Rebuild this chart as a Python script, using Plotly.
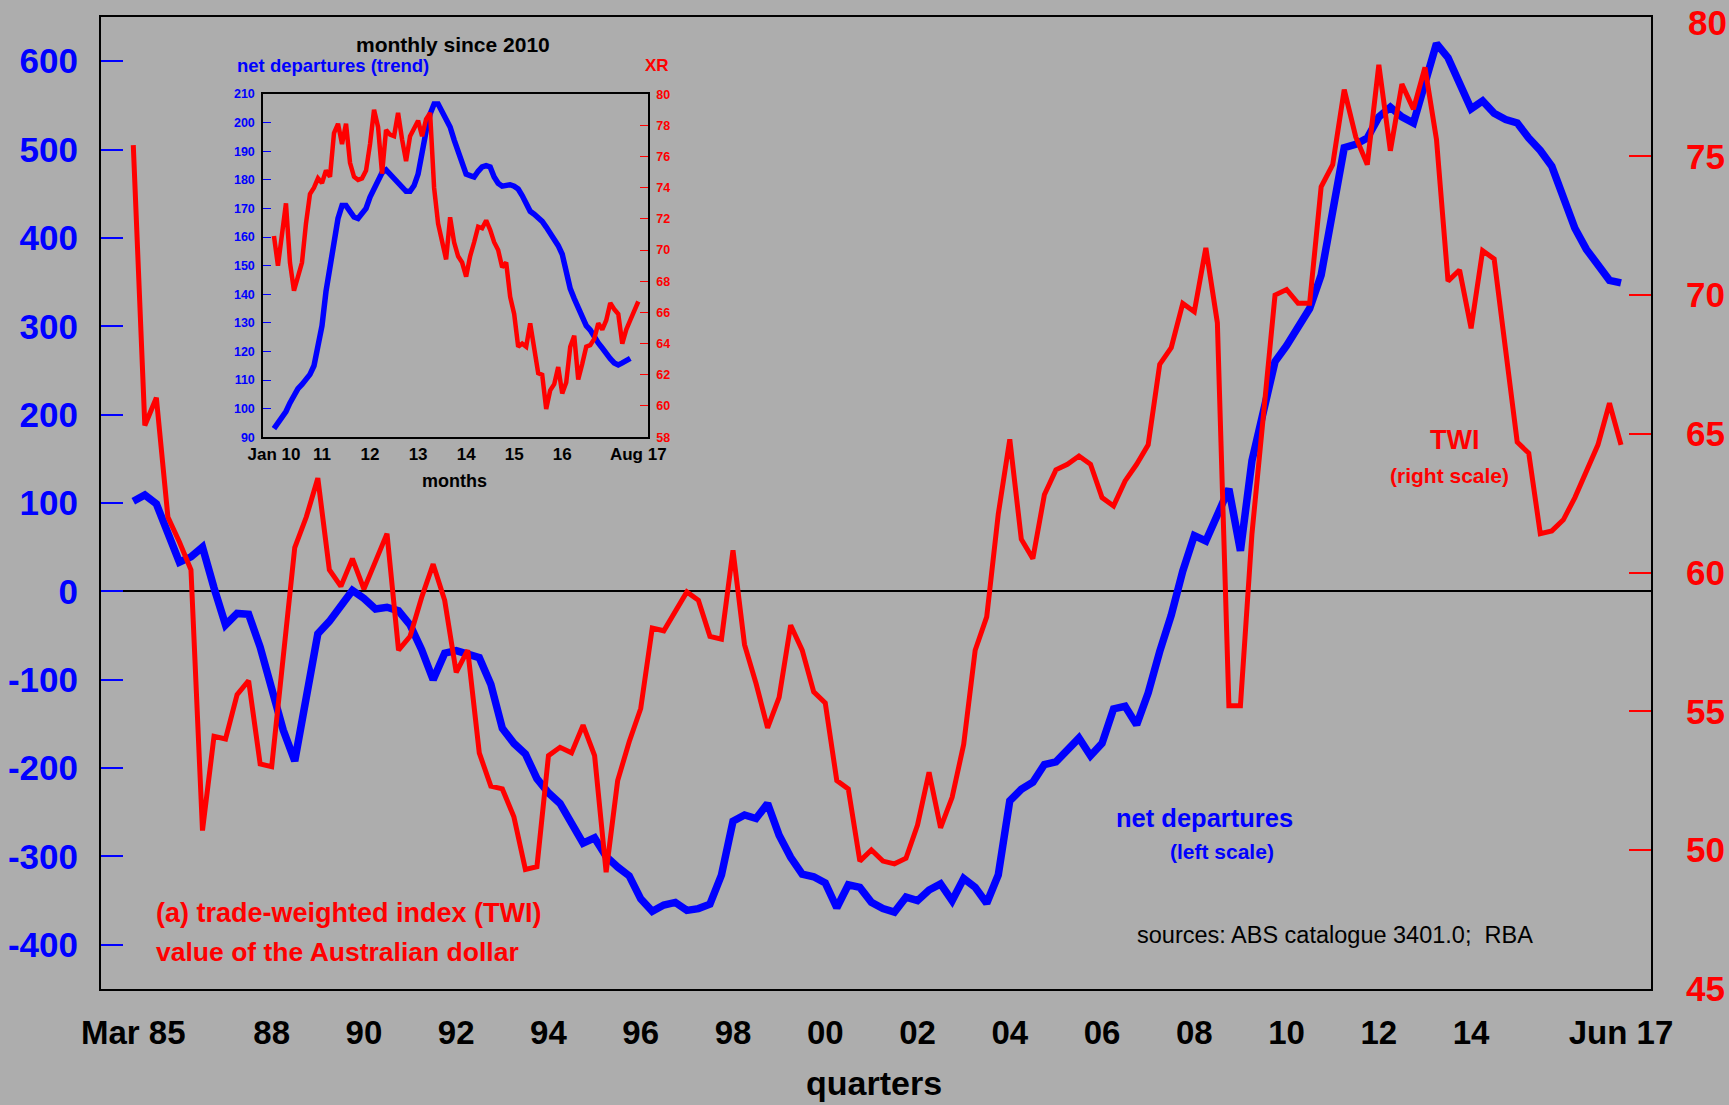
import plotly.graph_objects as go

# ---------------- data ----------------
MONTH_ABBR = ["Jan", "Feb", "Mar", "Apr", "May", "Jun", "Jul", "Aug", "Sep", "Oct", "Nov", "Dec"]
QTR_ABBR = ["Mar", "Jun", "Sep", "Dec"]

# quarterly categories Mar 1985 .. Jun 2017
quarters = [f"{m} {y}" for y in range(1985, 2018) for m in QTR_ABBR][:130]

# net departures (left scale), quarterly
net_departures = [
    102, 109, 99, 67, 33, 39, 50, 4, -38, -25,
    -26, -63, -112, -157, -192, -122, -48, -34, -17, 1,
    -8, -20, -18, -22, -38, -66, -100, -70, -67, -72,
    -75, -105, -155, -172, -184, -212, -228, -240, -262, -285,
    -279, -300, -312, -322, -348, -362, -355, -352, -361, -359,
    -354, -321, -260, -253, -257, -240, -276, -301, -320, -323,
    -330, -358, -332, -335, -352, -359, -363, -346, -350, -338,
    -331, -350, -325, -335, -353, -321, -237, -224, -216, -196,
    -193, -179, -166, -186, -172, -133, -130, -151, -115, -68,
    -27, 23, 63, 57, 88, 116, 46, 148, 204, 260,
    278, 299, 320, 358, 432, 502, 506, 513, 537, 548,
    537, 530, 575, 620, 604, 576, 546, 555, 541, 534,
    530, 513, 499, 481, 446, 411, 387, 369, 352, 349,
]

# trade-weighted index (right scale), quarterly
twi = [
    75.4, 65.3, 66.3, 62.0, 61.1, 60.1, 50.7, 54.1, 54.0, 55.6,
    56.1, 53.1, 53.0, 56.9, 60.9, 62.0, 63.4, 60.1, 59.5, 60.5,
    59.4, 60.4, 61.4, 57.2, 57.7, 59.1, 60.3, 59.0, 56.4, 57.2,
    53.5, 52.3, 52.2, 51.2, 49.3, 49.4, 53.4, 53.7, 53.5, 54.5,
    53.4, 49.2, 52.5, 53.9, 55.1, 58.0, 57.9, 58.6, 59.3, 59.0,
    57.7, 57.6, 60.8, 57.4, 56.0, 54.4, 55.5, 58.1, 57.2, 55.7,
    55.3, 52.5, 52.2, 49.6, 50.0, 49.6, 49.5, 49.7, 50.9, 52.8,
    50.8, 51.9, 53.8, 57.2, 58.4, 62.1, 64.8, 61.2, 60.5, 62.8,
    63.7, 63.9, 64.2, 63.9, 62.7, 62.4, 63.3, 63.9, 64.6, 67.5,
    68.1, 69.7, 69.4, 71.7, 69.0, 55.2, 55.2, 61.4, 65.7, 70.0,
    70.2, 69.7, 69.7, 73.9, 74.7, 77.4, 75.7, 74.7, 78.3, 75.2,
    77.6, 76.7, 78.2, 75.6, 70.5, 70.9, 68.8, 71.6, 71.3, 68.1,
    64.7, 64.3, 61.4, 61.5, 61.9, 62.7, 63.6, 64.6, 66.1, 64.6,
]

main_tick_cats = ["Mar 1985", "Mar 1988", "Mar 1990", "Mar 1992", "Mar 1994", "Mar 1996",
                  "Mar 1998", "Mar 2000", "Mar 2002", "Mar 2004", "Mar 2006", "Mar 2008",
                  "Mar 2010", "Mar 2012", "Mar 2014", "Jun 2017"]
main_tick_text = ["Mar 85", "88", "90", "92", "94", "96", "98", "00", "02", "04",
                  "06", "08", "10", "12", "14", "Jun 17"]
left_ticks = [-400, -300, -200, -100, 0, 100, 200, 300, 400, 500, 600]
left_tick_text = ["-400", "-300", "-200", "-100", "0", "100", "200", "300", "400", "500", "600"]
right_ticks = [45, 50, 55, 60, 65, 70, 75, 80]
# the top label (80) sits at the very edge; it is drawn as a separate text below
right_tick_text = ["45", "50", "55", "60", "65", "70", "75", ""]
right_top_label = "80"

# inset: monthly since Jan 2010
months = [f"{m} {y}" for y in range(2010, 2018) for m in MONTH_ABBR][:92]

net_dep_trend = [
    93, 95, 97, 99, 102, 105, 107, 108.5, 110, 112,
    115, 121, 129, 141, 149.5, 158, 166.5, 171, 171, 169,
    167, 166.5, 168, 170, 174, 177, 180.5, 182.5, 183.5, 182,
    180, 178.5, 177, 176, 176, 178, 182, 190, 197, 203,
    206.5, 206.5, 204, 201, 198.5, 194, 189.5, 185, 182, 181.5,
    181, 183, 184.5, 185, 184.5, 181, 178.8, 177.8, 178, 178.3,
    177.8, 176.8, 174.5, 171.5, 169, 168, 167, 165.5, 163.5, 161.5,
    159.5, 157, 154, 148.5, 142, 138.5, 135, 131.5, 129, 127.5,
    125, 123, 121.2, 119, 117.5, 116, 115.3, 116, 116.8, 117.6,
]

xr = [
    70.9, 69.0, 71.0, 73.0, 69.2, 67.4, 68.3, 69.2, 71.7, 73.6,
    74.0, 74.6, 74.3, 75.1, 74.7, 77.5, 78.1, 76.8, 78.1, 75.6,
    74.7, 74.5, 74.6, 75.1, 76.8, 79.0, 77.9, 74.9, 77.7, 77.4,
    77.3, 78.8, 77.1, 75.7, 77.3, 77.8, 78.3, 77.3, 78.4, 78.8,
    74.0, 71.7, 70.5, 69.4, 72.1, 70.5, 69.6, 69.2, 68.3, 69.6,
    70.5, 71.5, 71.4, 71.9, 71.3, 70.5, 70.0, 68.9, 69.2, 67.0,
    65.9, 63.8, 64.0, 63.8, 65.3, 63.8, 62.1, 62.0, 59.8, 61.0,
    61.4, 62.5, 60.8, 61.5, 63.8, 64.5, 61.7, 62.7, 63.8, 63.9,
    64.3, 65.3, 64.9, 65.5, 66.6, 66.2, 65.9, 64.0, 64.9, 65.5,
    66.2, 66.7,
]

inset_tick_cats = ["Jan 2010", "Jan 2011", "Jan 2012", "Jan 2013", "Jan 2014",
                   "Jan 2015", "Jan 2016", "Aug 2017"]
inset_tick_text = ["Jan 10", "11", "12", "13", "14", "15", "16", "Aug 17"]
inset_left_ticks = list(range(90, 211, 10))
inset_right_ticks = list(range(58, 81, 2))

# ---------------- style ----------------
W, H = 1729, 1105
L, R, T, B = 101, 1651, 17, 989
BG = "#adadad"
BLUE = "#0000ff"
RED = "#ff0000"
FONT = "Liberation Sans, Arial, Helvetica, sans-serif"


def px(x, y):
    return (x - L) / (R - L), (B - y) / (B - T)


fig = go.Figure()

fig.add_trace(go.Scatter(x=quarters, y=net_departures, mode="lines",
                         line=dict(color=BLUE, width=7.5), xaxis="x", yaxis="y",
                         showlegend=False, hoverinfo="skip"))
fig.add_trace(go.Scatter(x=quarters, y=twi, mode="lines",
                         line=dict(color=RED, width=5), xaxis="x", yaxis="y2",
                         showlegend=False, hoverinfo="skip"))
fig.add_trace(go.Scatter(x=months[:len(net_dep_trend)], y=net_dep_trend, mode="lines",
                         line=dict(color=BLUE, width=5.5), xaxis="x3", yaxis="y3",
                         showlegend=False, hoverinfo="skip"))
fig.add_trace(go.Scatter(x=months, y=xr, mode="lines",
                         line=dict(color=RED, width=4.5), xaxis="x3", yaxis="y4",
                         showlegend=False, hoverinfo="skip"))

ix0, iy1 = px(263.3, 94)
ix1, iy0 = px(648.3, 437.3)

fig.update_layout(
    width=W, height=H,
    margin=dict(l=L, r=W - R, t=T, b=H - B, pad=0, autoexpand=False),
    paper_bgcolor=BG, plot_bgcolor=BG,
    showlegend=False,
    xaxis=dict(type="category", range=[-2.8, 131.6], domain=[0, 1], anchor="y",
               automargin=False, ticklabeloverflow="allow",
               showline=True, mirror=True, linecolor="black", linewidth=2,
               showgrid=False, zeroline=False, ticks="",
               tickmode="array", tickvals=main_tick_cats, ticktext=main_tick_text,
               tickangle=0,
               tickfont=dict(family=FONT, size=33, color="black", weight="bold"),
               ticklabelstandoff=13),
    yaxis=dict(range=[-450, 650], domain=[0, 1], anchor="x",
               automargin=False, ticklabeloverflow="allow",
               showline=True, mirror=True, linecolor="black", linewidth=2,
               showgrid=False, zeroline=True, zerolinecolor="black", zerolinewidth=2,
               ticks="inside", ticklen=22, tickwidth=1.5, tickcolor=BLUE,
               tickmode="array", tickvals=left_ticks, ticktext=left_tick_text,
               tickfont=dict(family=FONT, size=35, color=BLUE, weight="bold"),
               ticklabelstandoff=14),
    yaxis2=dict(range=[44.99, 80.02], overlaying="y", side="right", anchor="x",
                automargin=False, ticklabeloverflow="allow",
                showline=False, showgrid=False, zeroline=False,
                ticks="inside", ticklen=22, tickwidth=1.5, tickcolor=RED,
                tickmode="array", tickvals=right_ticks, ticktext=right_tick_text,
                tickfont=dict(family=FONT, size=35, color=RED, weight="bold"),
                ticklabelstandoff=34),
    xaxis3=dict(type="category", range=[-2.66, 93.5], domain=[ix0, ix1], anchor="y3",
                automargin=False, ticklabeloverflow="allow",
                showline=True, mirror=True, linecolor="black", linewidth=2,
                showgrid=False, zeroline=False, ticks="",
                tickmode="array", tickvals=inset_tick_cats, ticktext=inset_tick_text,
                tickangle=0,
                tickfont=dict(family=FONT, size=17, color="black", weight="bold"),
                ticklabelstandoff=0),
    yaxis3=dict(range=[89.99, 210.02], domain=[iy0, iy1], anchor="x3",
                automargin=False, ticklabeloverflow="allow",
                showline=True, mirror=True, linecolor="black", linewidth=2,
                showgrid=False, zeroline=False,
                ticks="inside", ticklen=8, tickwidth=1, tickcolor=BLUE,
                tickmode="array", tickvals=inset_left_ticks,
                tickfont=dict(family=FONT, size=12.5, color=BLUE, weight="bold"),
                ticklabelstandoff=4),
    yaxis4=dict(range=[57.99, 80.01], overlaying="y3", side="right", anchor="x3",
                automargin=False, ticklabeloverflow="allow",
                showline=False, showgrid=False, zeroline=False,
                ticks="inside", ticklen=8, tickwidth=1, tickcolor=RED,
                tickmode="array", tickvals=inset_right_ticks,
                tickfont=dict(family=FONT, size=12.5, color=RED, weight="bold"),
                ticklabelstandoff=7),
)

annotations = [
    # (text, x, y, size, color, bold, xanchor)
    ("(a) trade-weighted index (TWI)", 154, 913, 27, RED, True, "left"),
    ("value of the Australian dollar", 154, 952, 26.5, RED, True, "left"),
    ("net departures", 1204, 818, 25.5, BLUE, True, "center"),
    ("(left scale)", 1222, 851, 21, BLUE, True, "center"),
    ("TWI", 1454, 440, 27, RED, True, "center"),
    ("(right scale)", 1449, 475, 21, RED, True, "center"),
    ("sources: ABS catalogue 3401.0;\u00a0 RBA", 1135, 935, 23.5, "black", False, "left"),
    ("quarters", 874, 1083, 34, "black", True, "center"),
    ("monthly since 2010", 453, 44, 21, "black", True, "center"),
    ("net departures (trend)", 235, 65, 18.5, BLUE, True, "left"),
    ("XR", 657, 65, 17, RED, True, "center"),
    ("months", 454, 481, 18, "black", True, "center"),
]
for text, x, y, size, color, bold, xa in annotations:
    xp, yp = px(x, y)
    fig.add_annotation(text=text, x=xp, y=yp, xref="paper", yref="paper",
                       xanchor=xa, yanchor="middle", showarrow=False,
                       font=dict(family=FONT, size=size, color=color,
                                 weight="bold" if bold else "normal"))

# top label of the right scale, kept inside the page
xp, yp = px(1686, 1)
fig.add_annotation(text=right_top_label, x=xp, y=yp, xref="paper", yref="paper",
                   xanchor="left", yanchor="top", showarrow=False,
                   font=dict(family=FONT, size=35, color=RED, weight="bold"))

fig.write_html("out.html",
               config={"displayModeBar": False},
               post_script="document.body.style.margin='0';document.body.style.background='%s';" % BG)
